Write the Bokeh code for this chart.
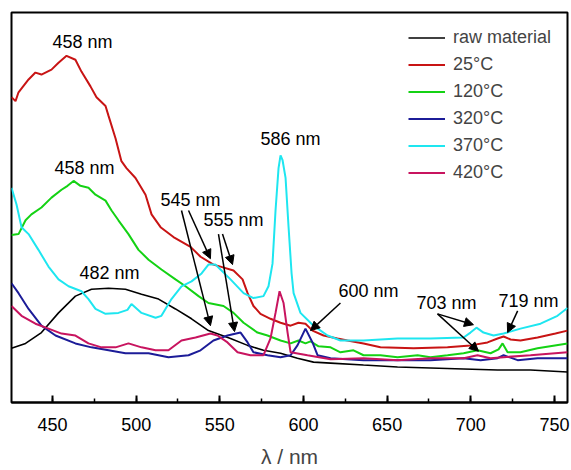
from bokeh.plotting import figure
from bokeh.models import (ColumnDataSource, Range1d, SingleIntervalTicker, Legend, LegendItem,
                          Arrow, NormalHead)
from bokeh.core.properties import value
from bokeh.embed import file_html
from bokeh.resources import INLINE

FONT = "Liberation Sans"

# ---- data (wavelength in nm, intensity in arbitrary units) ----
raw_x = [425.5, 433.9, 443.4, 453.6, 463.7, 473.3, 483.5, 493.6, 503.2, 513.4, 523.5, 533.1, 543.2,
         556.4, 566.6, 576.1, 586.3, 596.4, 606.0, 616.2, 635.9, 656.2, 675.9, 695.7, 716.0, 735.7, 757.8]
raw_y = [55, 60, 71, 91, 108, 115, 116, 115, 110, 105, 95, 85, 73,
         65, 58, 53, 50, 45, 41, 40, 38, 36, 35, 34, 33, 33, 31]

t25_x = [425.5, 427.9, 429.7, 435.7, 439.8, 443.4, 449.4, 453.6, 458.4, 463.7, 467.3, 472.7, 476.3,
         481.7, 483.5, 487.7, 491.2, 494.2, 499.6, 505.6, 509.2, 514.6, 522.3, 532.5, 538.5, 546.2,
         550.4, 558.2, 563.6, 566.6, 570.1, 574.3, 580.3, 586.3, 592.3, 597.0, 601.2, 605.4, 612.0,
         620.3, 626.3, 635.9, 646.0, 665.8, 686.1, 699.8, 710.0, 716.0, 719.6, 723.8, 729.7, 739.9,
         750.6, 757.8]
t25_y = [310, 306, 315, 328, 335, 333, 338, 345, 352, 348, 336, 321, 310,
         301, 291, 268, 245, 238, 228, 211, 191, 178, 168, 158, 148, 140,
         138, 134, 125, 111, 98, 90, 85, 81, 78, 81, 80, 73, 68,
         65, 63, 60, 56, 55, 56, 58, 61, 65, 67, 64, 63, 66,
         70, 73]

t120_x = [425.5, 429.7, 433.9, 437.4, 443.4, 449.4, 455.4, 459.0, 462.6, 466.7, 471.5, 475.7, 481.7,
          485.3, 489.4, 495.4, 501.4, 507.4, 515.1, 523.5, 529.5, 537.3, 543.2, 552.2, 558.2, 564.2,
          572.5, 578.5, 586.3, 592.3, 597.0, 601.2, 604.2, 609.0, 616.2, 622.1, 629.9, 635.9, 646.0,
          656.2, 668.2, 675.9, 686.1, 695.7, 704.0, 711.8, 716.6, 719.0, 722.0, 729.7, 739.9, 757.8]
t120_y = [170, 171, 185, 191, 198, 208, 216, 220, 225, 220, 218, 211, 205,
          195, 185, 171, 155, 145, 135, 125, 118, 108, 101, 98, 91, 81,
          71, 68, 63, 60, 63, 60, 62, 57, 56, 51, 53, 48, 48,
          46, 48, 46, 48, 50, 53, 50, 54, 60, 51, 51, 55, 60]

t320_x = [425.5, 429.7, 435.7, 443.4, 451.8, 463.7, 473.3, 483.5, 493.6, 507.4, 519.3, 531.3, 538.5,
          546.2, 554.6, 562.4, 566.6, 570.1, 578.5, 586.3, 592.3, 596.4, 601.2, 605.4, 608.4, 616.2,
          635.9, 656.2, 675.9, 695.7, 705.9, 716.0, 719.6, 728.0, 739.9, 757.8]
t320_y = [121, 111, 95, 78, 68, 60, 56, 53, 50, 50, 46, 48, 53,
          63, 68, 71, 61, 51, 48, 46, 48, 58, 75, 61, 48, 45,
          43, 43, 43, 45, 43, 45, 48, 43, 45, 45]

t370_x = [425.5, 428.5, 431.5, 435.7, 441.6, 447.6, 453.6, 459.6, 467.3, 471.5, 475.7, 481.7, 489.4,
          494.8, 497.2, 503.2, 511.6, 515.1, 521.1, 527.1, 533.1, 539.1, 543.2, 547.4, 550.4, 556.4,
          564.2, 570.1, 576.1, 579.1, 581.5, 583.3, 585.1, 586.3, 587.5, 589.3, 591.1, 592.9, 594.1,
          598.2, 606.0, 614.4, 622.1, 635.9, 656.2, 675.9, 695.7, 699.8, 703.4, 707.6, 713.6, 719.6,
          729.7, 741.7, 751.8, 757.8]
t370_y = [218, 201, 178, 171, 155, 138, 125, 118, 113, 105, 95, 90, 91,
          94, 100, 91, 86, 88, 105, 118, 123, 131, 140, 140, 135, 125,
          111, 106, 108, 118, 141, 195, 238, 251, 246, 228, 178, 131, 111,
          91, 78, 68, 63, 63, 65, 65, 66, 71, 76, 71, 68, 70,
          75, 80, 88, 96]

t420_x = [425.5, 431.5, 439.8, 447.6, 455.4, 463.7, 471.5, 479.3, 487.7, 495.4, 503.2, 511.6, 519.3,
          527.1, 535.5, 544.4, 548.6, 554.6, 560.6, 568.3, 576.1, 580.3, 583.3, 585.7, 588.1, 590.5,
          592.3, 602.4, 616.2, 635.9, 656.2, 675.9, 695.7, 704.0, 711.8, 719.6, 735.7, 757.8]
t420_y = [98, 88, 80, 75, 70, 68, 60, 56, 56, 60, 56, 53, 53,
          63, 66, 70, 68, 61, 51, 48, 48, 65, 91, 113, 101, 71,
          51, 48, 44, 45, 43, 45, 45, 48, 45, 46, 48, 51]

series_names = ["raw material", "25°C", "120°C", "320°C", "370°C", "420°C"]
series_colors = ["#000000", "#c81414", "#14d214", "#1c1c98", "#1ee6f0", "#c8145f"]
series_x = [raw_x, t25_x, t120_x, t320_x, t370_x, t420_x]
series_y = [raw_y, t25_y, t120_y, t320_y, t370_y, t420_y]

# peak annotations (text centre, in data units)
ann_text = ["458 nm", "458 nm", "545 nm", "555 nm", "586 nm", "482 nm", "600 nm", "703 nm", "719 nm"]
ann_x = [467.9, 469.1, 532.5, 558.2, 592.3, 484.1, 638.9, 685.5, 734.5]
ann_y = [366, 238, 206, 185, 268, 131, 113, 101, 103]

# arrows (start -> end, in data units)
arr_x0 = [531.3, 527.1, 551.6, 549.2, 622.1, 680.1, 680.1, 728.0]
arr_y0 = [195, 195, 171, 171, 101, 90, 90, 93]
arr_x1 = [544.4, 544.4, 557.6, 558.8, 604.2, 701.6, 704.6, 722.0]
arr_y1 = [146, 78, 140, 72, 73, 79, 52, 71]

# ---- figure ----
p = figure(width=571, height=470, output_backend="svg", toolbar_location=None,
           x_range=Range1d(425.5, 757.8), y_range=Range1d(0, 396),
           min_border_left=11, min_border_right=4, min_border_top=12, min_border_bottom=62)
p.background_fill_color = "white"
p.border_fill_color = "white"
p.outline_line_color = "black"
p.outline_line_width = 2
p.xgrid.visible = False
p.ygrid.visible = False
p.yaxis.visible = False

ax = p.xaxis[0]
ax.ticker = SingleIntervalTicker(interval=50, num_minor_ticks=2)
ax.axis_line_width = 2
ax.major_tick_in = 7
ax.major_tick_out = 0
ax.minor_tick_in = 4
ax.minor_tick_out = 0
ax.major_tick_line_width = 2
ax.minor_tick_line_width = 1.5
ax.major_label_standoff = 15
ax.major_label_text_font = FONT
ax.major_label_text_font_size = "18px"
ax.major_label_text_color = "black"
ax.axis_label = "λ / nm"
ax.axis_label_text_font = FONT
ax.axis_label_text_font_size = "21px"
ax.axis_label_text_font_style = "normal"
ax.axis_label_standoff = 11

renderers = []
for name, col, xs, ys in zip(series_names, series_colors, series_x, series_y):
    src = ColumnDataSource(dict(x=xs, y=ys))
    r = p.line("x", "y", source=src, line_color=col, line_width=2 if name != "raw material" else 1.6)
    renderers.append(r)

# annotations
asrc = ColumnDataSource(dict(x=ann_x, y=ann_y, t=ann_text))
p.text("x", "y", text="t", source=asrc, text_align="center", text_baseline="middle",
       text_font=value(FONT), text_font_size="18px", text_color="black")

for x0, y0, x1, y1 in zip(arr_x0, arr_y0, arr_x1, arr_y1):
    p.add_layout(Arrow(end=NormalHead(size=9, fill_color="black", line_color="black", line_width=1),
                       x_start=x0, y_start=y0, x_end=x1, y_end=y1,
                       line_color="black", line_width=1.5))

legend = Legend(items=[LegendItem(label=n, renderers=[r]) for n, r in zip(series_names, renderers)],
                location=(397, 219.5), border_line_color=None, background_fill_alpha=0,
                padding=0, margin=0, spacing=6, glyph_width=37, glyph_height=21,
                label_height=21, label_standoff=8, label_text_font=FONT,
                label_text_font_size="18px")
p.add_layout(legend)

open("out.html", "w").write(file_html(p, INLINE))
